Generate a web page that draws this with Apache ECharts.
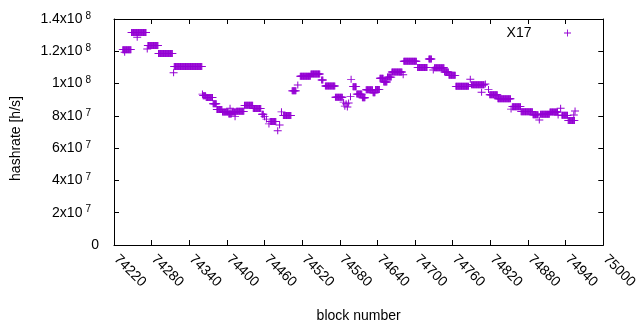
<!DOCTYPE html>
<html>
<head>
<meta charset="utf-8">
<script src="https://cdn.jsdelivr.net/npm/echarts@6/dist/echarts.min.js"></script>
<style>
html,body{margin:0;padding:0;background:#fff;}
#chart{width:640px;height:330px;}
</style>
</head>
<body>
<div id="chart"></div>
<script>
// Runs of constant hashrate: [first block, last block], value in h/s
const runStart = [74234,74237,74248,74257,74273,74274,74291,74315,74316,74361,74362,74367,74378,74384,74393,74403,74405,74408,74413,74415,74428,74442,74456,74460,74463,74467,74469,74481,74484,74487,74490,74504,74513,74517,74534,74551,74557,74573,74586,74588,74590,74592,74594,74597,74598,74601,74607,74616,74622,74633,74637,74644,74650,74656,74663,74681,74682,74704,74722,74729,74731,74747,74754,74765,74788,74790,74806,74812,74817,74819,74832,74853,74855,74869,74888,74898,74900,74915,74928,74932,74934,74944,74953,74955];
const runEnd   = [74247,74237,74271,74257,74273,74290,74313,74315,74360,74361,74366,74377,74383,74392,74402,74407,74405,74414,74413,74427,74441,74454,74458,74460,74463,74467,74478,74481,74484,74487,74502,74510,74513,74533,74548,74553,74572,74584,74586,74588,74590,74592,74594,74597,74598,74606,74615,74620,74632,74636,74643,74649,74655,74662,74679,74681,74702,74719,74726,74729,74746,74753,74764,74785,74788,74810,74806,74812,74817,74831,74852,74853,74868,74887,74896,74898,74914,74927,74928,74932,74943,74954,74953,74955];
const runValue = [1.210e8,1.194e8,1.316e8,1.287e8,1.214e8,1.236e8,1.186e8,1.067e8,1.106e8,9.35e7,9.25e7,9.14e7,8.75e7,8.39e7,8.24e7,8.12e7,8.47e7,8.24e7,7.95e7,8.28e7,8.65e7,8.45e7,8.10e7,7.95e7,7.80e7,7.50e7,7.65e7,7.08e7,7.43e7,8.25e7,8.02e7,9.55e7,9.91e7,1.045e8,1.059e8,1.022e8,9.85e7,9.15e7,8.85e7,8.60e7,8.75e7,8.55e7,8.80e7,9.19e7,1.026e8,9.81e7,9.35e7,9.12e7,9.62e7,9.43e7,9.64e7,1.033e8,1.010e8,1.040e8,1.072e8,1.055e8,1.138e8,1.100e8,1.152e8,1.084e8,1.098e8,1.072e8,1.051e8,9.83e7,1.027e8,9.93e7,9.46e7,9.97e7,9.64e7,9.31e7,9.06e7,8.42e7,8.57e7,8.26e7,8.07e7,7.74e7,8.10e7,8.24e7,8.05e7,8.47e7,8.03e7,7.72e7,8.05e7,8.30e7];

const seriesName = 'X17';
const yTickMantissa = ['0','2','4','6','8','1','1.2','1.4'];
const yTickExponent = ['','7','7','7','7','8','8','8'];

// one point per block
const points = [];
for (let i = 0; i < runStart.length; i++) {
  for (let b = runStart[i]; b <= runEnd[i]; b++) points.push([b, runValue[i]]);
}

const plus = 'path://M0,3.5H3.5V0H4.5V3.5H8V4.5H4.5V8H3.5V4.5H0Z';
const FONT = 'Liberation Sans';
const purple = '#9400d3';

const chart = echarts.init(document.getElementById('chart'), null, {renderer: 'canvas'});
const tickInside = {show: true, inside: true, length: 5, lineStyle: {color: '#000', width: 1}};
const line = {show: true, onZero: false, lineStyle: {color: '#000', width: 1}};

chart.setOption({
  animation: false,
  backgroundColor: '#fff',
  textStyle: {fontFamily: FONT},
  grid: {left: 114, right: 31, top: 19, bottom: 85, containLabel: false},
  legend: {
    data: [{name: seriesName, icon: plus}],
    right: 64, top: 21, align: 'right',
    itemWidth: 8, itemHeight: 7,
    textStyle: {fontFamily: FONT, fontSize: 14, color: '#000', padding: [0, 27, 0, 0]},
    selectedMode: false
  },
  xAxis: [{
    type: 'value', min: 74220, max: 75000, interval: 60,
    axisLine: line, axisTick: tickInside, splitLine: {show: false},
    axisLabel: {rotate: -45, margin: 10, padding: [0, 0, 0, 3], fontFamily: FONT, fontSize: 14, color: '#000',
      formatter: v => String(v)},
    name: 'block number', nameLocation: 'middle', nameGap: 64,
    nameTextStyle: {fontFamily: FONT, fontSize: 14, color: '#000'}
  }, {
    type: 'value', position: 'top', min: 74220, max: 75000, interval: 60,
    axisLine: line, axisTick: tickInside, axisLabel: {show: false}, splitLine: {show: false}
  }],
  yAxis: [{
    type: 'value', min: 0, max: 1.4e8, interval: 2e7,
    axisLine: line, axisTick: tickInside, splitLine: {show: false},
    axisLabel: {
      margin: 15, color: '#000', fontFamily: FONT, fontSize: 14,
      formatter: (v, i) => {
        const idx = Math.round(v / 2e7);
        return yTickExponent[idx] ? '{m|' + yTickMantissa[idx] + 'x10}{s|' + yTickExponent[idx] + '}' : '{m|' + yTickMantissa[idx] + '}';
      },
      rich: {
        m: {fontFamily: FONT, fontSize: 14, lineHeight: 16, color: '#000'},
        s: {fontFamily: FONT, fontSize: 10, lineHeight: 10, verticalAlign: 'top', color: '#000', padding: [0, 8, 0, 3]}
      }
    },
    name: 'hashrate [h/s]', nameLocation: 'middle', nameGap: 91,
    nameTextStyle: {fontFamily: FONT, fontSize: 14, color: '#000', padding: [0, 13, 0, 0]}
  }, {
    type: 'value', position: 'right', min: 0, max: 1.4e8, interval: 2e7,
    axisLine: line, axisTick: tickInside, axisLabel: {show: false}, splitLine: {show: false}
  }],
  series: [{
    name: seriesName, type: 'scatter', data: points,
    symbol: plus, symbolSize: [8, 7],
    itemStyle: {color: purple, opacity: 1},
    emphasis: {disabled: true}, silent: true, large: false
  }]
});
</script>
</body>
</html>
